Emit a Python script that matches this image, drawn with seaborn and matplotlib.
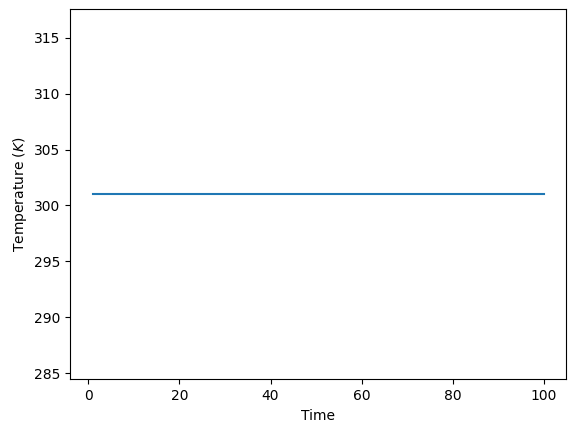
import matplotlib
matplotlib.use('Agg')
import matplotlib.pyplot as plt
import seaborn as sns
import pandas as pd

# datos: temperatura constante en el tiempo
tiempo = list(range(1, 101))
temperatura = [301.0] * 100

df = pd.DataFrame({'Time': tiempo, 'Temp': temperatura})

fig, ax = plt.subplots(figsize=(5.75, 4.32), dpi=100)
sns.lineplot(x='Time', y='Temp', data=df, ax=ax, color='#1f77b4')
ax.set_ylim(284.45, 317.55)
ax.set_xlabel('Time')
ax.set_ylabel('Temperature ($K$)')
plt.subplots_adjust(left=0.1223, right=0.985, top=0.9785, bottom=0.122)
plt.savefig('out.png')
